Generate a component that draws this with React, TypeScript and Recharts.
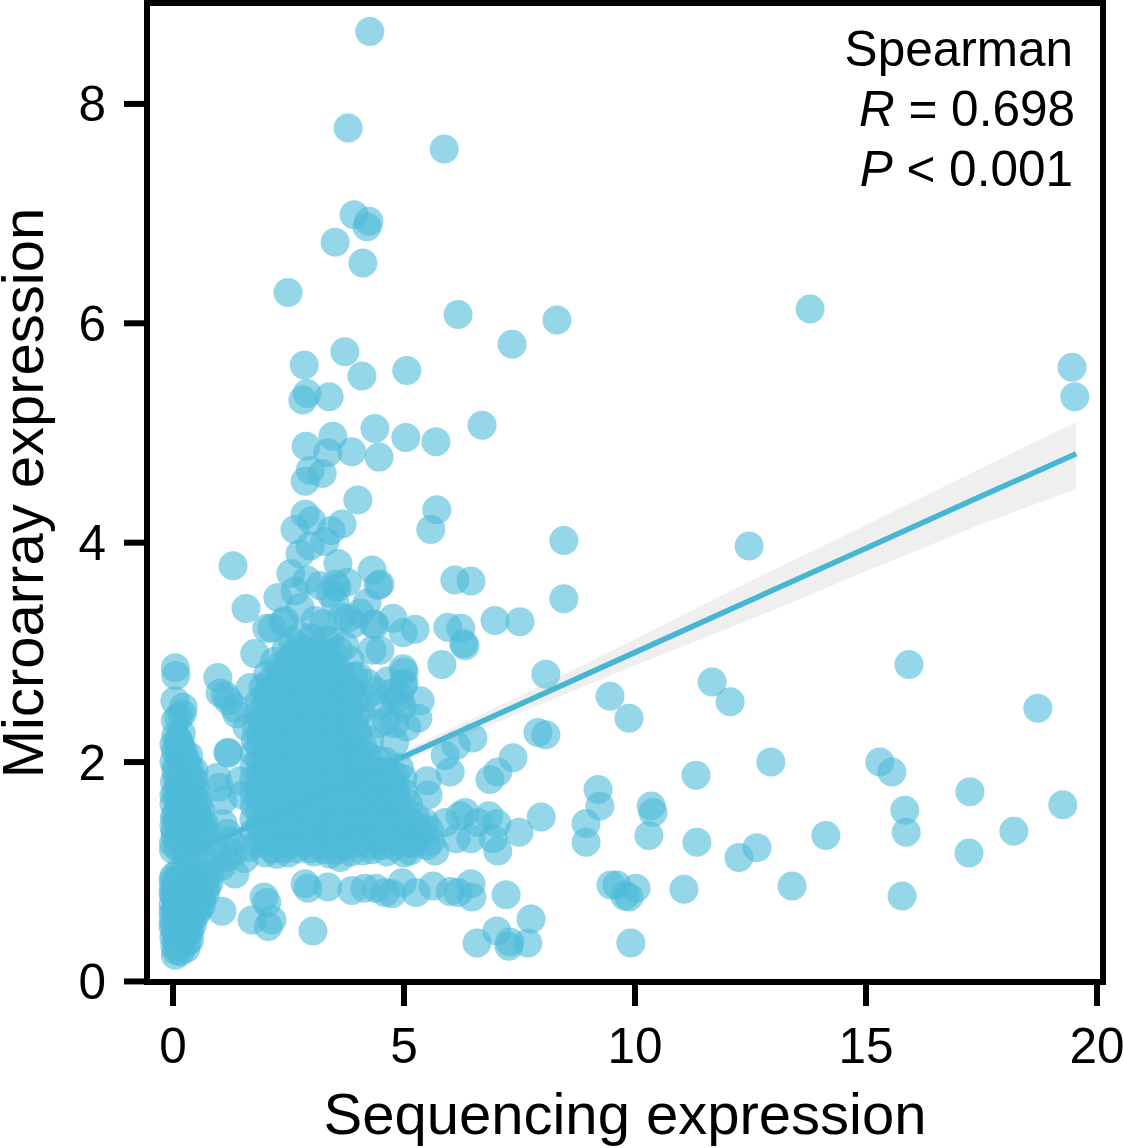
import { Area, ComposedChart, Line, ReferenceArea, Scatter, XAxis, YAxis } from "recharts";

const xTicks = [0, 5, 10, 15, 20];
const yTicks = [0, 2, 4, 6, 8];

const fitX = [0, 2.5, 5, 7.5, 10, 12.5, 15, 17.5, 19.55];
const fitY = [1.1, 1.575, 2.05, 2.525, 3.0, 3.475, 3.95, 4.425, 4.81];
const fitLow = [1.03, 1.53, 2.0, 2.45, 2.88, 3.3, 3.74, 4.17, 4.49];
const fitHigh = [1.17, 1.62, 2.1, 2.6, 3.12, 3.65, 4.16, 4.68, 5.1];

// sparse points, read one by one
const sparsePoints = [
  [4.26, 8.66], [3.79, 7.78], [5.87, 7.59], [3.92, 6.99], [4.24, 6.93], [4.2, 6.88], [3.51, 6.74], [4.11, 6.55],
  [2.49, 6.28], [6.17, 6.08], [8.31, 6.03], [13.79, 6.13], [7.34, 5.81], [3.72, 5.74], [2.84, 5.62], [4.09, 5.52],
  [5.06, 5.57], [19.46, 5.6], [19.52, 5.33], [2.9, 5.36], [2.81, 5.3], [3.38, 5.33], [4.37, 5.04], [6.69, 5.07],
  [5.04, 4.96], [5.69, 4.92], [3.46, 4.97], [2.88, 4.88], [3.87, 4.83], [3.35, 4.82], [4.46, 4.78], [2.97, 4.66],
  [3.23, 4.63], [2.86, 4.56], [4.0, 4.39], [5.71, 4.3], [5.58, 4.12], [2.86, 4.26], [3.0, 4.2], [2.64, 4.12],
  [3.66, 4.17], [3.42, 4.11], [8.46, 4.02], [12.47, 3.97], [3.29, 4.01], [2.97, 3.97], [2.75, 3.9], [1.3, 3.79],
  [3.57, 3.81], [4.31, 3.75], [2.55, 3.72], [6.1, 3.66], [6.45, 3.65], [4.48, 3.62], [4.44, 3.61], [8.46, 3.49],
  [1.58, 3.4], [2.9, 3.66], [3.18, 3.61], [3.51, 3.62], [3.77, 3.64], [2.64, 3.56], [2.27, 3.5], [3.51, 3.45],
  [4.05, 3.36], [3.79, 3.31], [4.76, 3.31], [4.37, 3.25], [2.42, 3.29], [6.97, 3.29], [7.51, 3.28], [5.95, 3.23],
  [6.23, 3.22], [4.98, 3.18], [5.24, 3.21], [6.32, 3.06], [6.29, 3.08], [4.48, 3.02], [5.82, 2.89], [4.98, 2.85],
  [5.0, 2.82], [8.07, 2.8], [0.97, 2.77], [4.65, 2.74], [5.0, 2.72], [11.67, 2.73], [15.93, 2.89], [18.72, 2.49],
  [12.06, 2.55], [9.46, 2.6], [9.87, 2.4], [1.13, 2.61], [1.34, 2.49], [5.35, 2.56], [4.8, 2.56], [5.3, 2.4],
  [4.91, 2.59], [4.61, 2.38], [4.44, 2.35], [4.8, 2.35], [7.9, 2.27], [8.07, 2.25], [6.49, 2.22], [6.13, 2.15],
  [4.8, 2.18], [1.19, 2.09], [7.36, 2.04], [5.89, 2.06], [12.94, 2.0], [15.3, 2.0], [15.56, 1.91], [6.0, 1.91],
  [7.03, 1.91], [6.86, 1.84], [11.32, 1.88], [17.25, 1.73], [9.2, 1.75], [5.5, 1.83], [5.52, 1.7], [19.26, 1.61],
  [9.24, 1.6], [10.35, 1.6], [10.39, 1.54], [15.84, 1.56], [7.97, 1.5], [8.94, 1.44], [6.32, 1.54], [6.21, 1.51],
  [6.84, 1.51], [6.6, 1.45], [7.01, 1.44], [7.49, 1.36], [14.13, 1.33], [10.3, 1.33], [18.2, 1.37], [15.87, 1.36],
  [8.94, 1.27], [11.34, 1.27], [7.03, 1.19], [6.93, 1.3], [12.64, 1.22], [12.25, 1.13], [17.23, 1.17], [6.45, 1.3],
  [6.13, 1.3], [5.58, 1.28], [5.89, 1.45], [5.13, 1.19], [5.67, 1.19], [9.48, 0.88], [9.61, 0.88], [13.4, 0.87],
  [10.02, 0.85], [11.06, 0.84], [9.78, 0.78], [9.87, 0.77], [15.78, 0.78], [7.21, 0.79], [6.45, 0.89], [6.47, 0.77],
  [5.63, 0.87], [6.0, 0.82], [6.17, 0.81], [5.26, 0.81], [4.96, 0.9], [4.59, 0.81], [4.39, 0.85], [4.15, 0.85],
  [3.87, 0.83], [3.35, 0.86], [2.86, 0.89], [2.92, 0.85], [4.74, 0.8], [7.75, 0.57], [7.01, 0.46], [7.29, 0.36],
  [7.27, 0.32], [7.68, 0.35], [6.58, 0.35], [9.91, 0.35], [3.03, 0.46], [1.97, 0.77], [2.03, 0.72], [2.14, 0.56],
  [2.06, 0.5], [1.71, 0.56], [1.06, 0.64],
];

// translucent points around the edge of the dense cloud
const cloudEdge = [
  [3.55, 3.59], [3.4, 3.54], [2.75, 3.41], [2.38, 3.27], [2.14, 3.22], [3.25, 3.26], [3.66, 3.32], [3.9, 3.26],
  [4.33, 3.26], [4.2, 3.45], [4.2, 2.72], [4.16, 2.59], [4.05, 2.47], [4.74, 2.63], [4.96, 2.5], [4.98, 2.7],
  [5.06, 2.32], [4.98, 1.85], [4.76, 1.74], [4.31, 3.02], [4.37, 2.65], [4.48, 2.52], [4.26, 2.2], [4.59, 2.01],
  [4.37, 1.92], [3.83, 2.93], [4.0, 2.79], [3.4, 3.11], [2.75, 3.15], [3.07, 3.29], [3.72, 3.06], [3.87, 2.65],
  [3.94, 2.33], [4.1, 2.15], [4.05, 1.98], [4.9, 1.95], [5.1, 1.62], [5.25, 1.5], [5.45, 1.45], [5.55, 1.38],
  [3.9, 2.78], [3.92, 2.56], [3.96, 2.42], [4.0, 2.26], [4.2, 2.06], [4.42, 2.02], [4.62, 1.92], [4.8, 1.88],
  [4.82, 1.76], [5.0, 1.72], [5.02, 1.55], [5.12, 1.46], [3.3, 3.12], [3.0, 3.13], [2.58, 3.1], [3.58, 3.02],
  [4.5, 1.7], [4.68, 1.66], [4.3, 1.82], [5.3, 1.3], [5.5, 1.24], [5.1, 1.26],
];

// upper left column and the bridge towards the main cloud
const columnUpper = [
  [0.05, 2.86], [0.06, 2.79], [0.04, 2.56], [0.22, 2.5], [0.05, 2.38], [0.2, 2.44], [0.12, 2.41], [0.12, 2.2],
  [0.05, 2.1], [0.18, 2.12], [0.02, 2.0], [0.14, 2.02], [0.26, 1.98], [0.06, 1.92], [0.2, 1.9], [0.32, 1.88],
  [0.03, 1.82], [0.15, 1.8], [0.28, 1.79], [0.4, 1.78], [0.07, 1.72], [0.2, 1.7], [0.34, 1.69], [0.46, 1.66],
  [0.02, 1.62], [0.13, 1.6], [0.26, 1.59], [0.4, 1.58], [0.52, 1.55], [0.06, 1.52], [0.19, 1.5], [0.32, 1.49],
  [0.46, 1.47], [0.58, 1.44], [0.02, 1.42], [0.14, 1.4], [0.27, 1.39], [0.4, 1.37], [0.54, 1.35], [0.66, 1.33],
  [0.05, 1.33], [0.18, 1.3], [0.31, 1.28], [0.45, 1.26], [0.6, 1.24], [0.01, 1.26], [0.1, 1.22], [0.24, 1.2],
  [0.04, 1.37], [0.09, 1.47], [0.23, 1.44], [0.36, 1.43], [0.11, 1.66], [0.25, 1.64], [0.09, 1.86], [0.22, 1.76],
  [0.08, 1.96], [0.2, 1.84], [0.33, 1.75], [0.42, 1.7], [0.48, 1.56], [0.56, 1.5], [0.62, 1.4], [0.7, 1.28],
  [0.5, 1.36], [0.36, 1.33], [0.24, 1.35], [0.12, 1.28], [0.03, 1.5], [0.16, 1.55], [0.3, 1.55], [0.42, 1.5],
  [0.02, 1.7], [0.14, 1.74], [0.28, 1.68], [0.38, 1.62], [0.01, 1.2], [0.38, 1.22], [0.52, 1.28], [0.28, 1.24],
  [0.3, 2.0], [0.36, 1.94], [0.44, 1.84], [0.5, 1.74], [0.54, 1.64], [0.6, 1.56], [0.68, 1.44], [0.16, 2.16],
  [0.24, 2.08], [0.1, 2.14], [0.06, 2.24], [0.18, 2.26], [0.02, 2.16], [0.34, 2.06], [0.46, 1.92], [0.72, 1.36],
  [0.95, 1.86], [1.08, 1.65], [1.0, 1.77], [1.08, 1.44], [1.17, 1.35], [1.45, 1.83], [1.2, 2.08], [1.67, 2.68],
  [1.77, 2.99], [2.03, 3.22], [1.02, 2.63], [1.2, 2.56], [1.38, 2.44], [1.6, 2.32], [1.3, 1.17], [1.17, 1.13],
  [1.34, 0.98], [1.55, 1.12], [1.62, 1.22], [0.85, 1.08], [0.95, 1.18], [1.05, 1.05], [1.25, 1.28], [1.5, 1.7],
];

// lower left column
const columnLower = [
  [0.05, 0.24], [0.28, 0.3], [0.04, 0.32], [0.13, 0.34], [0.22, 0.36], [0.02, 0.4], [0.11, 0.42], [0.2, 0.43],
  [0.3, 0.44], [0.04, 0.48], [0.14, 0.5], [0.24, 0.5], [0.34, 0.52], [0.01, 0.55], [0.09, 0.57], [0.19, 0.58],
  [0.29, 0.58], [0.4, 0.6], [0.04, 0.63], [0.13, 0.65], [0.24, 0.65], [0.35, 0.66], [0.46, 0.67], [0.0, 0.7],
  [0.08, 0.72], [0.18, 0.72], [0.29, 0.73], [0.4, 0.73], [0.52, 0.75], [0.03, 0.78], [0.13, 0.79], [0.24, 0.8],
  [0.35, 0.8], [0.47, 0.81], [0.58, 0.83], [0.01, 0.85], [0.1, 0.86], [0.2, 0.87], [0.31, 0.87], [0.43, 0.88],
  [0.55, 0.9], [0.68, 0.92], [0.06, 0.92], [0.17, 0.93], [0.28, 0.94], [0.4, 0.95], [0.53, 0.96], [0.66, 1.0],
  [0.8, 0.98], [0.09, 0.55], [0.17, 0.46], [0.26, 0.62], [0.07, 0.67], [0.15, 0.76], [0.33, 0.69],
  [0.02, 0.96], [0.12, 0.99], [0.24, 1.0], [0.36, 1.01], [0.48, 1.02], [0.6, 0.97], [0.72, 0.86], [0.62, 0.76],
  [0.5, 0.84], [0.38, 0.62], [0.44, 0.74], [0.52, 0.68], [0.3, 0.52], [0.36, 0.46], [0.2, 0.52], [0.1, 0.36],
  [0.0, 0.5], [0.0, 0.62], [0.0, 0.8], [0.0, 0.92], [0.1, 0.7], [0.22, 0.84], [0.34, 0.92], [0.46, 0.94],
  [0.36, 0.38], [0.42, 0.52], [0.48, 0.6], [0.56, 0.66], [0.62, 0.7], [0.7, 0.8], [0.78, 0.9], [0.3, 0.36],
  [0.08, 0.28], [0.16, 0.27], [0.24, 0.42], [0.32, 0.6], [0.14, 0.6], [0.06, 0.44], [0.05, 0.78], [0.26, 0.76],
];

// the dense cloud, estimated row by row
const mainCloud = [
  [2.45, 3.03], [2.78, 3.05], [3.1, 3.02], [3.32, 3.0], [2.2, 2.92], [2.52, 2.93], [2.84, 2.94], [3.15, 2.91], [3.45, 2.9],
  [2.05, 2.8], [2.35, 2.82], [2.62, 2.79], [2.93, 2.81], [3.2, 2.8], [3.5, 2.78], [3.62, 2.82],
  [1.95, 2.68], [2.22, 2.69], [2.5, 2.67], [2.8, 2.7], [3.05, 2.68], [3.35, 2.69], [3.6, 2.66],
  [1.88, 2.56], [2.15, 2.57], [2.45, 2.55], [2.7, 2.58], [2.98, 2.56], [3.28, 2.55], [3.55, 2.57], [3.72, 2.54],
  [1.85, 2.44], [2.1, 2.45], [2.38, 2.43], [2.62, 2.46], [2.9, 2.44], [3.18, 2.43], [3.45, 2.45], [3.7, 2.42],
  [1.8, 2.32], [2.05, 2.33], [2.32, 2.31], [2.6, 2.34], [2.85, 2.32], [3.12, 2.31], [3.4, 2.33], [3.65, 2.3],
  [1.78, 2.2], [2.02, 2.21], [2.3, 2.19], [2.55, 2.22], [2.82, 2.2], [3.08, 2.19], [3.36, 2.21], [3.62, 2.18], [3.85, 2.2],
  [1.76, 2.08], [2.05, 2.09], [2.28, 2.07], [2.56, 2.1], [2.84, 2.08], [3.1, 2.07], [3.38, 2.09], [3.6, 2.06], [3.88, 2.08],
  [1.75, 1.96], [2.02, 1.97], [2.3, 1.95], [2.58, 1.98], [2.86, 1.96], [3.12, 1.95], [3.4, 1.97], [3.66, 1.94], [3.92, 1.96], [4.15, 1.93],
  [1.75, 1.84], [2.04, 1.85], [2.32, 1.83], [2.6, 1.86], [2.88, 1.84], [3.15, 1.83], [3.42, 1.85], [3.7, 1.82], [3.96, 1.84], [4.22, 1.83], [4.5, 1.85], [4.72, 1.82],
  [1.75, 1.72], [2.02, 1.73], [2.3, 1.71], [2.58, 1.74], [2.86, 1.72], [3.12, 1.71], [3.4, 1.73], [3.68, 1.7], [3.94, 1.72], [4.2, 1.71], [4.46, 1.73], [4.74, 1.7],
  [1.76, 1.6], [2.04, 1.61], [2.32, 1.59], [2.6, 1.62], [2.88, 1.6], [3.15, 1.59], [3.42, 1.61], [3.7, 1.58], [3.96, 1.6], [4.22, 1.59], [4.48, 1.61], [4.76, 1.58],
  [1.75, 1.48], [2.02, 1.49], [2.3, 1.47], [2.58, 1.5], [2.86, 1.48], [3.12, 1.47], [3.4, 1.49], [3.68, 1.46], [3.94, 1.48], [4.2, 1.47], [4.46, 1.49], [4.74, 1.46], [5.02, 1.44], [5.3, 1.42],
  [1.76, 1.36], [2.04, 1.37], [2.32, 1.35], [2.6, 1.38], [2.88, 1.36], [3.15, 1.35], [3.42, 1.37], [3.7, 1.34], [3.96, 1.36], [4.22, 1.35], [4.48, 1.34], [4.76, 1.33], [5.05, 1.32], [5.35, 1.34],
  [1.85, 1.26], [2.1, 1.27], [2.35, 1.25], [2.62, 1.28], [2.9, 1.26], [3.18, 1.25], [3.45, 1.27], [3.72, 1.24], [3.98, 1.26], [4.25, 1.25], [4.52, 1.24], [4.8, 1.23],
  [2.0, 1.17], [2.25, 1.16], [2.5, 1.17], [3.05, 1.18], [3.4, 1.16], [3.62, 1.13], [4.3, 1.2], [5.0, 1.17], [5.2, 1.25],
];

// second pass over the cloud, it is close to solid in the picture
const mainCloudFill = [
  [2.6, 2.98], [2.95, 2.99], [3.28, 2.95], [2.3, 2.87], [2.68, 2.87], [3.0, 2.86], [3.32, 2.85], [3.6, 2.72],
  [2.12, 2.74], [2.48, 2.74], [2.78, 2.75], [3.08, 2.74], [3.42, 2.73], [3.78, 2.62], [2.02, 2.62], [2.32, 2.62],
  [2.58, 2.62], [2.86, 2.63], [3.15, 2.62], [3.44, 2.62], [3.7, 2.7], [1.98, 2.5], [2.25, 2.5], [2.52, 2.5],
  [2.78, 2.51], [3.05, 2.5], [3.32, 2.5], [3.6, 2.49], [3.82, 2.46], [1.92, 2.38], [2.2, 2.38], [2.48, 2.38],
  [2.74, 2.39], [3.0, 2.38], [3.26, 2.38], [3.54, 2.37], [3.8, 2.36], [1.9, 2.26], [2.16, 2.26], [2.44, 2.26],
  [2.7, 2.27], [2.96, 2.26], [3.22, 2.26], [3.5, 2.25], [3.76, 2.25], [1.88, 2.14], [2.16, 2.15], [2.42, 2.14],
  [2.7, 2.15], [2.96, 2.14], [3.24, 2.14], [3.5, 2.13], [3.74, 2.13], [3.98, 2.12], [1.88, 2.02], [2.16, 2.03],
  [2.44, 2.02], [2.72, 2.03], [2.98, 2.02], [3.26, 2.02], [3.54, 2.01], [3.8, 2.01], [4.02, 2.02], [1.88, 1.9],
  [2.18, 1.91], [2.46, 1.9], [2.74, 1.91], [3.02, 1.9], [3.28, 1.9], [3.56, 1.89], [3.82, 1.89], [4.08, 1.89],
  [4.34, 1.88], [1.88, 1.78], [2.16, 1.79], [2.44, 1.78], [2.72, 1.79], [3.0, 1.78], [3.28, 1.78], [3.54, 1.77],
  [3.82, 1.77], [4.08, 1.77], [4.34, 1.77], [4.6, 1.78], [1.88, 1.66], [2.18, 1.67], [2.46, 1.66], [2.74, 1.67],
  [3.0, 1.66], [3.28, 1.66], [3.56, 1.65], [3.82, 1.65], [4.08, 1.65], [4.34, 1.65], [4.6, 1.66], [4.86, 1.65],
  [1.88, 1.54], [2.16, 1.55], [2.44, 1.54], [2.72, 1.55], [3.0, 1.54], [3.28, 1.54], [3.54, 1.53], [3.82, 1.53],
  [4.08, 1.53], [4.34, 1.53], [4.6, 1.54], [4.88, 1.52], [1.88, 1.42], [2.18, 1.43], [2.46, 1.42], [2.74, 1.43],
  [3.0, 1.42], [3.28, 1.42], [3.56, 1.41], [3.82, 1.41], [4.08, 1.41], [4.34, 1.41], [4.6, 1.41], [4.88, 1.4],
  [5.15, 1.38], [1.95, 1.31], [2.22, 1.31], [2.48, 1.31], [2.76, 1.32], [3.02, 1.31], [3.3, 1.31], [3.58, 1.3],
  [3.84, 1.3], [4.1, 1.3], [4.36, 1.3], [4.64, 1.29], [4.92, 1.27], [2.15, 1.21], [2.42, 1.21], [2.7, 1.21],
  [2.98, 1.21], [3.28, 1.2], [3.55, 1.2], [3.85, 1.18], [4.1, 1.19], [4.62, 1.18],
];

const fitRows = fitX.map((x, i) => ({ x, fit: fitY[i], band: [fitLow[i], fitHigh[i]] }));
const pointRows = [...columnLower, ...columnUpper, ...mainCloud, ...mainCloudFill, ...cloudEdge, ...sparsePoints].map(
  ([x, y]) => ({ x, y }),
);

const POINT = "#4fbbd8";
const FONT = "'Liberation Sans', Arial, sans-serif";

const Dot = (props: any) => <circle cx={props.cx} cy={props.cy} r={14.5} fill={POINT} fillOpacity={0.6} />;

export default function App() {
  return (
    <div style={{ position: "absolute", left: 0, top: 0, width: 1123, height: 1148 }}>
      <ComposedChart
        width={1123}
        height={1148}
        data={fitRows}
        margin={{ top: 3, right: 20, left: 0, bottom: 0 }}
        style={{ fontFamily: FONT }}
      >
        <XAxis
          dataKey="x"
          type="number"
          domain={[-0.563, 20.13]}
          ticks={xTicks}
          height={166}
          axisLine={false}
          tickLine={{ stroke: "#000", strokeWidth: 6 }}
          tickSize={24}
          tickMargin={22}
          tick={{ fontSize: 49.5, fill: "#000" }}
        />
        <YAxis
          type="number"
          domain={[-0.005, 8.92]}
          ticks={yTicks}
          width={147}
          axisLine={false}
          tickLine={{ stroke: "#000", strokeWidth: 6 }}
          tickSize={23}
          tickMargin={18}
          tick={{ fontSize: 49.5, fill: "#000" }}
        />
        <Scatter data={pointRows} dataKey="y" shape={Dot} isAnimationActive={false} />
        <Area dataKey="band" stroke="none" fill="#999999" fillOpacity={0.16} dot={false} activeDot={false} isAnimationActive={false} />
        <Line dataKey="fit" stroke="#47b6d3" strokeWidth={5.5} dot={false} activeDot={false} isAnimationActive={false} />
        <ReferenceArea
          x1={-0.563}
          x2={20.13}
          y1={-0.005}
          y2={8.92}
          fill="none"
          stroke="#000"
          strokeWidth={6}
          ifOverflow="visible"
        />
        <text x={625} y={1134} textAnchor="middle" fontSize={58} fill="#000">Sequencing expression</text>
        <text x={43} y={493} textAnchor="middle" fontSize={58} fill="#000" transform="rotate(-90 43 493)">
          Microarray expression
        </text>
        <text x={1073} y={66} textAnchor="end" fontSize={49.5} fill="#000">Spearman</text>
        <text x={1075} y={126} textAnchor="end" fontSize={49.5} fill="#000">
          <tspan fontStyle="italic">R</tspan> = 0.698
        </text>
        <text x={1073} y={186} textAnchor="end" fontSize={49.5} fill="#000">
          <tspan fontStyle="italic">P</tspan> &lt; 0.001
        </text>
      </ComposedChart>
    </div>
  );
}
